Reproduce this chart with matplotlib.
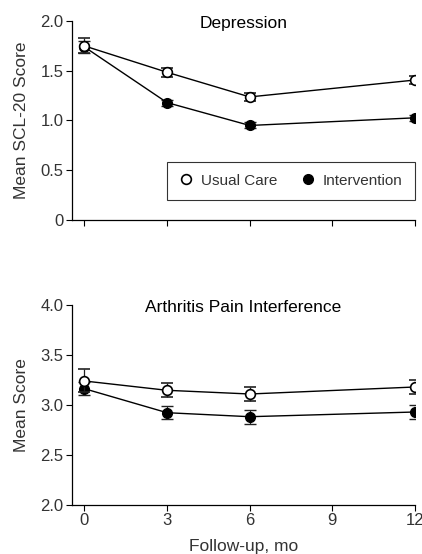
import matplotlib.pyplot as plt
from matplotlib.lines import Line2D

plt.rcParams['font.family'] = ['Liberation Sans', 'DejaVu Sans']

months = [0, 3, 6, 12]

# Depression (SCL-20)
dep_usual = [1.75, 1.485, 1.237, 1.407]
dep_usual_err = [0.075, 0.047, 0.04, 0.04]
dep_int = [1.74, 1.18, 0.95, 1.027]
dep_int_err = [0.06, 0.03, 0.03, 0.03]

# Arthritis pain interference
pain_usual = [3.24, 3.147, 3.11, 3.18]
pain_usual_err = [0.115, 0.07, 0.07, 0.07]
pain_int = [3.163, 2.923, 2.883, 2.93]
pain_int_err = [0.063, 0.065, 0.07, 0.07]

text_col = '#333333'
err_col = '#222222'
fs = 12.5

fig = plt.figure(figsize=(4.22, 5.54), dpi=100)
ax1 = fig.add_axes([0.1706, 0.603, 0.8128, 0.359])
ax2 = fig.add_axes([0.1706, 0.0884, 0.8128, 0.3611])


def draw(ax, uc, uc_err, iv, iv_err):
    ax.errorbar(months, iv, yerr=iv_err, color='black', ecolor=err_col, elinewidth=0.9,
                capsize=4.5, capthick=0.9, lw=1.0, marker='o', ms=7, mfc='black',
                mec='black', mew=1.0, zorder=3)
    ax.errorbar(months, uc, yerr=uc_err, color='black', ecolor=err_col, elinewidth=0.9,
                capsize=4.5, capthick=0.9, lw=1.0, marker='o', ms=7, mfc='white',
                mec='black', mew=1.2, zorder=4)
    ax.spines['top'].set_visible(False)
    ax.spines['right'].set_visible(False)
    for s in ('left', 'bottom'):
        ax.spines[s].set_linewidth(0.9)
        ax.spines[s].set_color('black')
    ax.set_xlim(-0.45, 12)
    ax.set_xticks([0, 3, 6, 9, 12])
    ax.tick_params(direction='out', length=4, width=0.8, labelsize=12,
                   labelcolor=text_col, pad=2)


draw(ax1, dep_usual, dep_usual_err, dep_int, dep_int_err)
ax1.set_ylim(0, 2.0)
ax1.set_yticks([0, 0.5, 1.0, 1.5, 2.0])
ax1.set_yticklabels(['0', '0.5', '1.0', '1.5', '2.0'])
ax1.set_xticklabels([])
ax1.set_ylabel('Mean SCL-20 Score', fontsize=fs, color=text_col, labelpad=8)
ax1.set_title('Depression', fontsize=fs, color='black', pad=-5, y=1.0)

handles = [Line2D([], [], ls='none', marker='o', ms=7, mfc='white', mec='black', mew=1.2),
           Line2D([], [], ls='none', marker='o', ms=7, mfc='black', mec='black')]
leg = ax1.legend(handles, ['Usual Care', 'Intervention'], ncol=2, loc='lower right',
                 bbox_to_anchor=(1.0, 0.1), frameon=True, fancybox=False,
                 fontsize=11, handlelength=0.8, handletextpad=0.6,
                 columnspacing=1.6, borderpad=0.8, borderaxespad=0)
leg.get_frame().set_edgecolor('black')
leg.get_frame().set_linewidth(0.8)
for t in leg.get_texts():
    t.set_color(text_col)

draw(ax2, pain_usual, pain_usual_err, pain_int, pain_int_err)
ax2.set_ylim(2.0, 4.0)
ax2.set_yticks([2.0, 2.5, 3.0, 3.5, 4.0])
ax2.set_ylabel('Mean Score', fontsize=fs, color=text_col, labelpad=8)
ax2.set_xlabel('Follow-up, mo', fontsize=fs, color=text_col, labelpad=8)
ax2.set_title('Arthritis Pain Interference', fontsize=fs, color='black', pad=-5, y=1.0)

fig.savefig('out.png', dpi=100)
